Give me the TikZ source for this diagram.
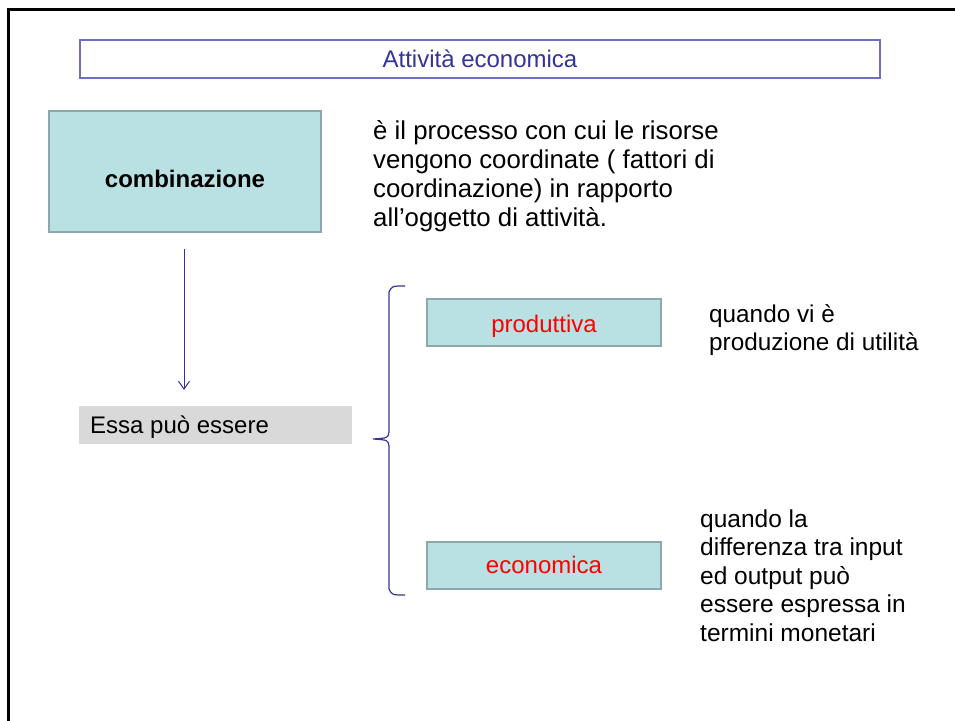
\documentclass[tikz,border=0pt]{standalone}
\usepackage{fontspec}
\setmainfont{Liberation Sans}
\usepackage{xcolor}
\usetikzlibrary{arrows.meta, positioning}

\definecolor{titleblue}{HTML}{333399}
\definecolor{frameblue}{HTML}{6F6FBF}
\definecolor{boxfill}{HTML}{B9E0E2}
\definecolor{boxline}{HTML}{8EA8AA}
\definecolor{graybox}{HTML}{D9D9D9}

\tikzset{
    slidetext/.style={font=\fontsize{24}{28.5}\selectfont, inner sep=0pt},
    tealbox/.style={draw=boxline, line width=2pt, fill=boxfill,
        minimum width=234pt, minimum height=47pt, inner sep=0pt,
        font=\fontsize{24}{28.5}\selectfont, text=red},
    sidenote/.style={slidetext, align=left, anchor=base west}
}

\begin{document}
\begin{tikzpicture}[x=1pt, y=-1pt]
    \useasboundingbox (0, 0) rectangle (955, 720);
    % slide frame
    \draw[line width=3pt] (955, 9) -- (8, 9) -- (8, 721);
    % title
    \node[draw=frameblue, line width=1.2pt, minimum width=800pt, minimum height=38pt,
        inner sep=0pt, text=titleblue, font=\fontsize{24}{28.5}\selectfont]
        (titolo) at (480, 59) {Attività economica};
    % main box
    \node[draw=boxline, line width=2pt, fill=boxfill, minimum width=272pt,
        minimum height=121pt, inner sep=0pt, text height=31pt, text depth=0pt,
        font=\bfseries\fontsize{24}{28.5}\selectfont]
        (comb) at (185, 171.5) {combinazione};
    \node[sidenote, font=\fontsize{25.8}{28.7}\selectfont] (defin) at (373, 226)
        {è il processo con cui le risorse\\vengono coordinate ( fattori di\\coordinazione) in rapporto\\all’oggetto di attività.};
    % essa puo essere
    \node[fill=graybox, minimum width=273pt, minimum height=38pt, inner sep=0pt]
        (essa) at (215.5, 425) {};
    \node[slidetext, anchor=west] (essatxt) at (90, 427) {Essa può essere};
    \coordinate (freccia) at (184, 390);
    \draw[titleblue, -{Straight Barb[length=8pt, width=11pt]}, line width=1pt,
        shorten <=16pt] (comb.south -| freccia) -- (freccia);
    % brace
    \coordinate (gtop) at (405, 286);
    \coordinate (gmid) at (373, 439);
    \coordinate (gbot) at (405, 595);
    \draw[titleblue, line width=1.2pt] (gtop) .. controls (392, 286) .. (389, 292)
        -- (389, 432) .. controls (388, 438) .. (gmid)
        .. controls (388, 440) .. (389, 446)
        -- (389, 589) .. controls (392, 595) .. (gbot);
    % types
    \node[tealbox, text height=20pt, text depth=0pt] (prod) at (544, 322.5) {produttiva};
    \node[tealbox, text height=17pt, text depth=0pt] (econ) at (544, 565) {economica};
    \node[sidenote, font=\fontsize{24.3}{28}\selectfont] (prodnota) at (709, 350)
        {quando vi è\\produzione di utilità};
    \node[sidenote, font=\fontsize{24.5}{28.5}\selectfont] (econnota) at (700, 641)
        {quando la\\differenza tra input\\ed output può\\essere espressa in\\termini monetari};
\end{tikzpicture}
\end{document}
